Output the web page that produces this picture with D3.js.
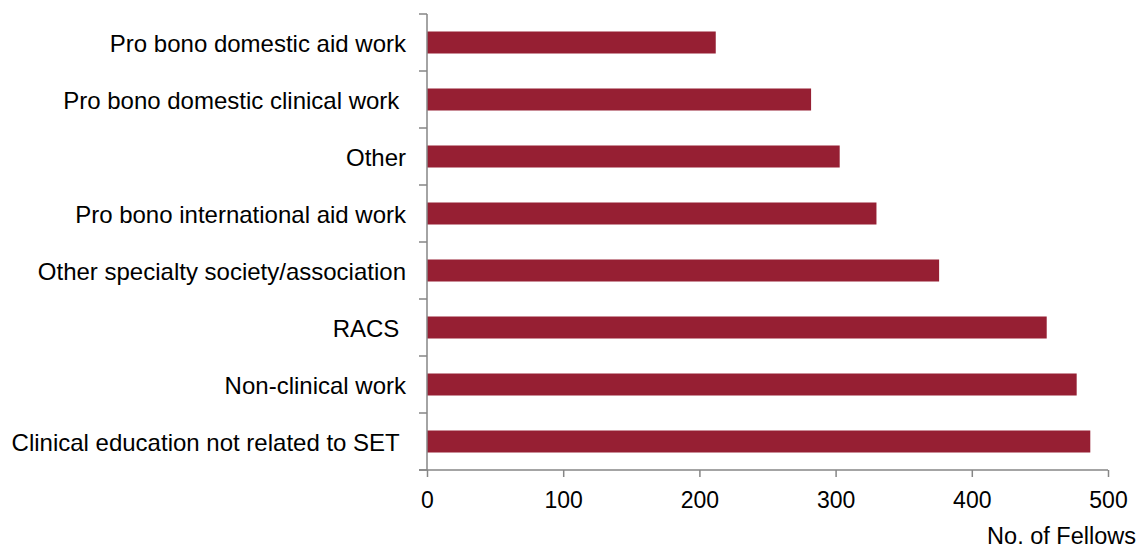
<!DOCTYPE html>
<html>
<head>
<meta charset="utf-8">
<script src="https://cdn.jsdelivr.net/npm/d3@7"></script>
<style>
  html, body { margin: 0; padding: 0; background: #fff; }
  svg { display: block; font-family: "Liberation Sans", Arial, sans-serif; }
  text { white-space: pre; }
</style>
</head>
<body>
<svg id="chart" width="1144" height="548"></svg>
<script>
// Activity categories, top to bottom
const categories = [
  "Pro bono domestic aid work",
  "Pro bono domestic clinical work ",
  "Other",
  "Pro bono international aid work",
  "Other specialty society/association",
  "RACS ",
  "Non-clinical work",
  "Clinical education not related to SET "
];
// Number of Fellows per activity
const fellows = [212, 282, 303, 330, 376, 455, 477, 487];
const xTicks = [0, 100, 200, 300, 400, 500];
const xTitle = "No. of Fellows";

const svg = d3.select("#chart");
const margin = { top: 14, left: 427, right: 36, bottom: 78 };
const width = 1144, height = 548;
const axisColor = "#868686";

const x = d3.scaleLinear().domain([0, 500]).range([margin.left, width - margin.right]);
const y = d3.scaleBand().domain(categories)
  .range([margin.top, height - margin.bottom])
  .paddingInner(0.614).paddingOuter(0.307);

// Bars
svg.append("g").selectAll("rect")
  .data(categories)
  .join("rect")
  .attr("x", x(0))
  .attr("y", d => y(d))
  .attr("width", (d, i) => x(fellows[i]) - x(0))
  .attr("height", y.bandwidth())
  .attr("fill", "#961f33");

// Category axis: ticks sit on the band boundaries
const yAxis = svg.append("g").attr("transform", `translate(${x(0)},0)`);
yAxis.append("line")
  .attr("x1", 0).attr("x2", 0)
  .attr("y1", margin.top).attr("y2", height - margin.bottom)
  .attr("stroke", axisColor).attr("stroke-width", 1.5);
const step = y.step();
yAxis.selectAll("line.tick")
  .data(d3.range(categories.length + 1))
  .join("line")
  .attr("class", "tick")
  .attr("x1", -8).attr("x2", 0)
  .attr("y1", i => margin.top + i * step)
  .attr("y2", i => margin.top + i * step)
  .attr("stroke", axisColor).attr("stroke-width", 1.5);
yAxis.selectAll("text")
  .data(categories)
  .join("text")
  .attr("x", -21)
  .attr("y", d => y(d) + y.bandwidth() / 2)
  .attr("dy", "0.38em")
  .attr("text-anchor", "end")
  .attr("font-size", 24)
  .attr("fill", "#000")
  .text(d => d);

// Value axis
const xAxis = svg.append("g")
  .attr("transform", `translate(0,${height - margin.bottom})`)
  .call(d3.axisBottom(x).tickValues(xTicks).tickSize(7).tickSizeOuter(0).tickPadding(15));
xAxis.select(".domain").attr("stroke", axisColor).attr("stroke-width", 1.5)
  .attr("d", `M${x(0) - 8},0H${x(500)}`);
xAxis.selectAll(".tick line").attr("stroke", axisColor).attr("stroke-width", 1.5);
xAxis.selectAll(".tick text")
  .attr("font-size", 23)
  .attr("font-family", "Liberation Sans, Arial, sans-serif")
  .attr("fill", "#000");

svg.append("text")
  .attr("x", 1136)
  .attr("y", 544)
  .attr("text-anchor", "end")
  .attr("font-size", 23.5)
  .attr("fill", "#000")
  .text(xTitle);
</script>
</body>
</html>
